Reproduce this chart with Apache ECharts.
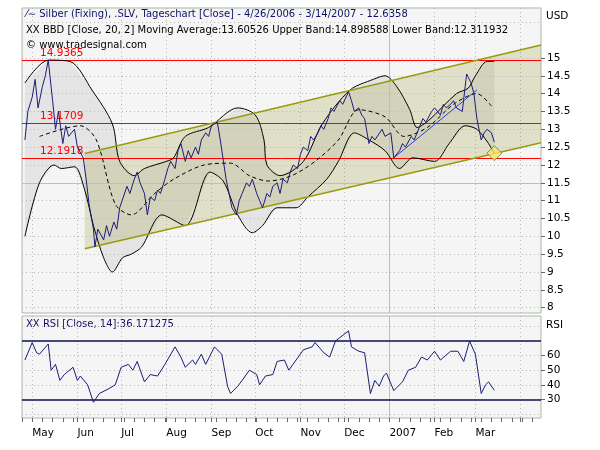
<!DOCTYPE html>
<html><head><meta charset="utf-8">
<script src="https://cdn.jsdelivr.net/npm/echarts@6/dist/echarts.min.js"></script>
<style>html,body{margin:0;padding:0;background:#fff}#c{width:600px;height:450px}</style>
</head><body><div id="c"></div>
<script>
// ---- data ----
var priceDates = ['2006-04-26','2006-04-28','2006-05-01','2006-05-03','2006-05-05','2006-05-08','2006-05-10','2006-05-12','2006-05-15','2006-05-17','2006-05-19','2006-05-22','2006-05-24','2006-05-26','2006-05-30','2006-06-01','2006-06-05','2006-06-07','2006-06-09','2006-06-12','2006-06-13','2006-06-15','2006-06-19','2006-06-21','2006-06-23','2006-06-26','2006-06-28','2006-06-30','2006-07-05','2006-07-07','2006-07-10','2006-07-12','2006-07-14','2006-07-17','2006-07-19','2006-07-21','2006-07-24','2006-07-26','2006-07-28','2006-07-31','2006-08-02','2006-08-04','2006-08-07','2006-08-09','2006-08-11','2006-08-14','2006-08-16','2006-08-18','2006-08-21','2006-08-23','2006-08-25','2006-08-28','2006-08-30','2006-09-01','2006-09-05','2006-09-07','2006-09-11','2006-09-13','2006-09-15','2006-09-18','2006-09-20','2006-09-22','2006-09-25','2006-09-27','2006-09-29','2006-10-02','2006-10-04','2006-10-06','2006-10-09','2006-10-11','2006-10-13','2006-10-16','2006-10-18','2006-10-20','2006-10-23','2006-10-25','2006-10-27','2006-10-30','2006-11-01','2006-11-03','2006-11-06','2006-11-08','2006-11-10','2006-11-13','2006-11-15','2006-11-17','2006-11-20','2006-11-22','2006-11-24','2006-11-28','2006-11-30','2006-12-04','2006-12-06','2006-12-08','2006-12-11','2006-12-13','2006-12-15','2006-12-18','2006-12-20','2006-12-22','2006-12-27','2006-12-29','2007-01-02','2007-01-04','2007-01-08','2007-01-10','2007-01-12','2007-01-16','2007-01-18','2007-01-22','2007-01-24','2007-01-26','2007-01-30','2007-02-01','2007-02-05','2007-02-07','2007-02-09','2007-02-12','2007-02-14','2007-02-16','2007-02-20','2007-02-22','2007-02-23','2007-02-26','2007-02-28','2007-03-02','2007-03-05','2007-03-07','2007-03-09','2007-03-12','2007-03-14'];
var priceValues = [12.7,13.5,13.9,14.4,13.6,14.2,14.5,14.94,13.8,13.0,13.5,12.6,13.1,12.8,13.0,12.5,12.2,11.6,10.9,10.2,9.7,10.2,9.9,10.3,10.0,10.4,10.2,10.8,11.4,11.2,11.6,11.8,11.5,11.2,10.6,11.1,11.0,11.3,11.2,11.6,11.9,12.1,11.9,12.4,12.6,12.1,12.4,12.2,12.5,12.3,12.7,12.9,12.8,13.1,13.2,12.7,11.6,11.2,10.8,10.6,11.0,11.2,11.5,11.4,11.6,11.2,11.0,10.8,11.2,11.1,11.4,11.5,11.2,11.6,11.5,11.8,12.0,11.9,12.3,12.5,12.4,12.8,12.7,12.9,13.1,13.0,13.3,13.6,13.5,13.8,13.7,14.05,13.8,13.5,13.6,13.4,13.3,12.6,12.8,12.7,13.0,12.8,12.9,12.2,12.4,12.6,12.5,12.8,12.7,13.1,13.3,13.2,13.5,13.6,13.4,13.7,13.6,13.7,13.8,13.6,13.5,14.2,14.55,14.3,14.0,13.3,12.7,12.9,13.0,12.9,12.64];

var upperDates = ['2006-04-26','2006-05-12','2006-05-27','2006-06-11','2006-06-25','2006-06-30','2006-07-10','2006-07-17','2006-08-01','2006-08-06','2006-08-14','2006-08-30','2006-09-19','2006-10-01','2006-10-07','2006-10-09','2006-10-18','2006-11-03','2006-11-16','2006-12-05','2006-12-21','2006-12-29','2007-01-06','2007-01-15','2007-01-20','2007-01-28','2007-02-16','2007-02-24','2007-03-01','2007-03-09','2007-03-14'];
var upperValues = [14.3,14.94,14.9,14.1,13.15,12.1,11.7,11.9,12.1,12.2,12.8,13.05,13.6,13.4,12.7,12.0,11.7,12.1,13.15,14.1,14.4,14.5,14.2,13.55,13.05,13.25,14.0,14.15,14.5,14.9,14.9];

var lowerDates = ['2006-04-26','2006-05-06','2006-05-16','2006-05-21','2006-05-30','2006-06-06','2006-06-12','2006-06-19','2006-06-25','2006-07-02','2006-07-08','2006-07-15','2006-07-29','2006-08-14','2006-08-31','2006-09-09','2006-09-19','2006-09-29','2006-10-06','2006-10-16','2006-10-29','2006-11-06','2006-11-19','2006-11-27','2006-12-08','2006-12-18','2006-12-29','2007-01-08','2007-01-17','2007-02-01','2007-02-11','2007-02-22','2007-03-02','2007-03-10','2007-03-14'];
var lowerValues = [10.0,11.5,12.0,11.9,11.95,11.3,10.3,9.4,9.0,9.4,9.5,9.7,10.6,10.3,11.8,11.55,10.6,10.1,10.3,10.8,10.8,11.1,11.6,12.1,12.9,12.7,12.4,11.9,12.2,12.1,12.6,13.1,13.0,12.6,12.31];

var midDates = ['2006-05-06','2006-06-03','2006-06-14','2006-06-27','2006-07-08','2006-07-24','2006-08-06','2006-08-27','2006-09-14','2006-09-27','2006-10-10','2006-10-26','2006-11-11','2006-11-27','2006-12-11','2006-12-29','2007-01-11','2007-01-27','2007-02-14','2007-03-02','2007-03-12'];
var midValues = [12.8,13.1,12.7,10.9,10.6,11.2,11.6,12.0,12.05,11.7,11.55,11.7,12.1,12.7,13.55,13.35,12.8,13.05,13.7,14.0,13.65];

var rsiDates = ['2006-04-26','2006-05-01','2006-05-04','2006-05-06','2006-05-12','2006-05-14','2006-05-17','2006-05-20','2006-05-23','2006-05-29','2006-06-01','2006-06-03','2006-06-08','2006-06-12','2006-06-16','2006-06-22','2006-06-27','2006-07-01','2006-07-06','2006-07-09','2006-07-12','2006-07-17','2006-07-21','2006-07-26','2006-07-31','2006-08-07','2006-08-11','2006-08-14','2006-08-19','2006-08-21','2006-08-25','2006-08-28','2006-09-03','2006-09-08','2006-09-12','2006-09-14','2006-09-19','2006-09-22','2006-09-27','2006-10-02','2006-10-04','2006-10-08','2006-10-13','2006-10-16','2006-10-21','2006-10-24','2006-10-29','2006-11-03','2006-11-09','2006-11-11','2006-11-17','2006-11-21','2006-11-25','2006-12-04','2006-12-06','2006-12-11','2006-12-15','2006-12-19','2006-12-22','2006-12-25','2006-12-28','2006-12-30','2007-01-04','2007-01-10','2007-01-14','2007-01-19','2007-01-23','2007-01-27','2007-02-01','2007-02-05','2007-02-12','2007-02-17','2007-02-21','2007-02-25','2007-03-01','2007-03-05','2007-03-08','2007-03-10','2007-03-14'];
var rsiValues = [57,69,62,61,68,50,54,43,47,52,43,46,40,28,34,37,40,52,54,50,56,42,47,46,54,66,59,52,57,54,61,54,66,61,39,34,39,43,50,47,40,46,47,56,57,50,57,64,66,69,62,59,70,77,66,63,62,34,43,39,46,48,36,42,50,52,59,57,63,57,63,63,56,70,61,34,40,42,36.17];

var refLevels = ['14.9365', '13.1709', '12.1918'];
var channelLower = [['2006-06-06', 9.65], ['2007-04-15', 12.62]];
var channelUpper = [['2006-06-06', 12.32], ['2007-04-15', 15.36]];
var trendLine = [['2007-01-04', 12.2], ['2007-03-02', 14.1]];
var marker = ['2007-03-14', 12.33];
var priceTicks = [8,8.5,9,9.5,10,10.5,11,11.5,12,12.5,13,13.5,14,14.5,15];
var rsiTicks = [30,40,50,60];
var monthLabels = {'2006-05-01':'May','2006-06-01':'Jun','2006-07-01':'Jul','2006-08-01':'Aug','2006-09-01':'Sep','2006-10-01':'Oct','2006-11-01':'Nov','2006-12-01':'Dec','2007-01-01':'2007','2007-02-01':'Feb','2007-03-01':'Mar','2007-04-01':''};

// ---- axis categories (calendar days) ----
var cats = [];
(function(){var d=new Date(Date.UTC(2006,3,24));var e=new Date(Date.UTC(2007,3,15));
while(d<=e){cats.push(d.toISOString().slice(0,10));d=new Date(d.getTime()+86400000);}})();
function pairs(ds,vs){return ds.map(function(d,i){return [d,vs[i]];});}
function isMonth(i){return monthLabels.hasOwnProperty(cats[i]);}
function idx(d){return cats.indexOf(d);}

var FONT='DejaVu Sans';
var chart = echarts.init(document.getElementById('c'));
var gridLinePrice = priceTicks.map(function(v){return {yAxis:v};}).concat([{yAxis:16},{yAxis:16.5}]);
var rsiGrid = [20,30,40,50,60,70,80].map(function(v){return {yAxis:v};});

function polyRender(getPts, fill){
  return function(params, api){
    var pts = getPts().map(function(p){return api.coord([idx(p[0]), p[1]]);});
    return {type:'polygon', shape:{points:pts}, style:{fill:fill}, silent:true,
      clipPath:{type:'rect',shape:{x:params.coordSys.x,y:params.coordSys.y,width:params.coordSys.width,height:params.coordSys.height}}};
  };
}
var bandPts = function(){ return pairs(upperDates,upperValues).concat(pairs(lowerDates,lowerValues).reverse()); };
var chanPts = function(){ return [channelLower[0],channelLower[1],channelUpper[1],channelUpper[0]]; };

var xBase = {type:'category', data:cats, boundaryGap:false,
  axisLine:{show:false}, axisTick:{show:false}, axisLabel:{show:false},
  splitLine:{show:true, interval:function(i){return isMonth(i);}, lineStyle:{color:'#b8b8b8', type:[1,3]}}};

chart.setOption({
  animation:false,
  backgroundColor:'#ffffff',
  grid:[
    {left:22, right:59, top:8, height:305, show:true, backgroundColor:'#f5f5f5', borderColor:'#a8b8a8', borderWidth:1},
    {left:22, right:59, top:316, height:102, show:true, backgroundColor:'#f5f5f5', borderColor:'#a8b8a8', borderWidth:1}
  ],
  xAxis:[
    Object.assign({gridIndex:0}, xBase),
    Object.assign({}, xBase, {gridIndex:1,
      axisTick:{show:true, interval:function(i){return isMonth(i)||new Date(cats[i]).getUTCDay()===1;}, length:4, inside:false, lineStyle:{color:'#666'}},
      axisLabel:{show:true, interval:function(i){return isMonth(i);}, formatter:function(v){return monthLabels[v]||'';}, align:'left', margin:10, color:'#000', fontFamily:FONT, fontSize:10.5}})
  ],
  yAxis:[
    {gridIndex:0, type:'value', position:'right', min:7.85, max:16.4, splitLine:{show:false},
      axisLine:{show:false}, axisTick:{show:true, customValues:priceTicks, length:4, lineStyle:{color:'#666'}},
      axisLabel:{customValues:priceTicks, color:'#000', fontFamily:FONT, fontSize:10.5, margin:6}},
    {gridIndex:1, type:'value', position:'right', min:17.2, max:87.2, splitLine:{show:false},
      axisLine:{show:false}, axisTick:{show:true, customValues:rsiTicks, length:4, lineStyle:{color:'#666'}},
      axisLabel:{customValues:rsiTicks, color:'#000', fontFamily:FONT, fontSize:10.5, margin:6}}
  ],
  series:[
    {type:'line', xAxisIndex:0, yAxisIndex:0, data:[], silent:true,
      markLine:{symbol:'none', silent:true, label:{show:false}, lineStyle:{color:'#b8b8b8', type:[1,3], width:1}, data:gridLinePrice}},
    {type:'custom', xAxisIndex:0, yAxisIndex:0, data:[[0]], renderItem:polyRender(bandPts,'#e4e4e4'), silent:true, z:1},
    {type:'custom', xAxisIndex:0, yAxisIndex:0, data:[[0]], renderItem:polyRender(chanPts,'rgba(150,150,40,0.22)'), silent:true, z:2},
    {type:'line', xAxisIndex:0, yAxisIndex:0, data:[], silent:true, z:3,
      markLine:{symbol:'none', silent:true, label:{show:false}, data:[
        {yAxis:11.5, lineStyle:{color:'#9fd49a', type:'solid', width:1}},
        {xAxis:'2007-01-01', lineStyle:{color:'#9fd49a', type:'solid', width:1}}
      ]}},
    {type:'line', xAxisIndex:0, yAxisIndex:0, data:[], silent:true, z:4,
      markLine:{symbol:'none', silent:true, lineStyle:{color:'#ff0000', type:'solid', width:1},
        label:{show:true, position:'insideStartTop', distance:[18,1], color:'#ff0000', fontFamily:FONT, fontSize:10.5, formatter:'{b}'},
        data:refLevels.map(function(v){return {yAxis:Number(v), name:v};})}},
    {type:'line', name:'upper', data:pairs(upperDates,upperValues), connectNulls:true, showSymbol:false, smooth:0.3, lineStyle:{color:'#000',width:1}, z:5, silent:true},
    {type:'line', name:'lower', data:pairs(lowerDates,lowerValues), connectNulls:true, showSymbol:false, smooth:0.3, lineStyle:{color:'#000',width:1}, z:5, silent:true},
    {type:'line', name:'mid', data:pairs(midDates,midValues), connectNulls:true, showSymbol:false, smooth:0.3, lineStyle:{color:'#000',width:1,type:[4,3]}, z:5, silent:true},
    {type:'line', name:'chLow', data:channelLower, showSymbol:false, lineStyle:{color:'#9a9a10',width:1.5}, z:6, silent:true},
    {type:'line', name:'chUp', data:channelUpper, showSymbol:false, lineStyle:{color:'#9a9a10',width:1.5}, z:6, silent:true},
    {type:'line', name:'price', data:pairs(priceDates,priceValues), connectNulls:true, showSymbol:false, lineStyle:{color:'#1c1c78',width:1}, z:7, silent:true},
    {type:'line', name:'trend', data:trendLine, showSymbol:false, lineStyle:{color:'#2a3cf0',width:1}, z:8, silent:true},
    {type:'scatter', data:[marker], symbol:'diamond', symbolSize:[15,15], itemStyle:{color:'#f4e66a', borderColor:'#7a7a20', borderWidth:1}, z:9, silent:true},
    {type:'line', xAxisIndex:1, yAxisIndex:1, data:[], silent:true,
      markLine:{symbol:'none', silent:true, label:{show:false}, lineStyle:{color:'#b8b8b8', type:[1,3], width:1}, data:rsiGrid}},
    {type:'line', xAxisIndex:1, yAxisIndex:1, data:[], silent:true, z:3,
      markLine:{symbol:'none', silent:true, label:{show:false}, data:[
        {xAxis:'2007-01-01', lineStyle:{color:'#9fd49a', type:'solid', width:1}},
        {yAxis:70, lineStyle:{color:'#101050', type:'solid', width:1.5}},
        {yAxis:30, lineStyle:{color:'#101050', type:'solid', width:1.5}}]}},
    {type:'line', xAxisIndex:1, yAxisIndex:1, name:'rsi', data:pairs(rsiDates,rsiValues), connectNulls:true, showSymbol:false, lineStyle:{color:'#1c1c78',width:1}, z:7, silent:true}
  ],
  graphic:[
    {type:'text', left:26, top:9, style:{text:'⁄\u223C Silber (Fixing), .SLV, Tageschart [Close] - 4/26/2006 - 3/14/2007 - 12.6358', fill:'#10106a', font:'10px '+FONT}},
    {type:'text', left:26, top:25, style:{text:'XX BBD [Close, 20, 2] Moving Average:13.60526 Upper Band:14.898588 Lower Band:12.311932', fill:'#000', font:'10px '+FONT}},
    {type:'text', left:26, top:40, style:{text:'© www.tradesignal.com', fill:'#000', font:'10px '+FONT}},
    {type:'text', left:546, top:11, style:{text:'USD', fill:'#000', font:'10.5px '+FONT}},
    {type:'text', left:26, top:319, style:{text:'XX RSI [Close, 14]:36.171275', fill:'#10106a', font:'10px '+FONT}},
    {type:'text', left:546, top:320, style:{text:'RSI', fill:'#000', font:'10.5px '+FONT}}
  ]
});
</script></body></html>
